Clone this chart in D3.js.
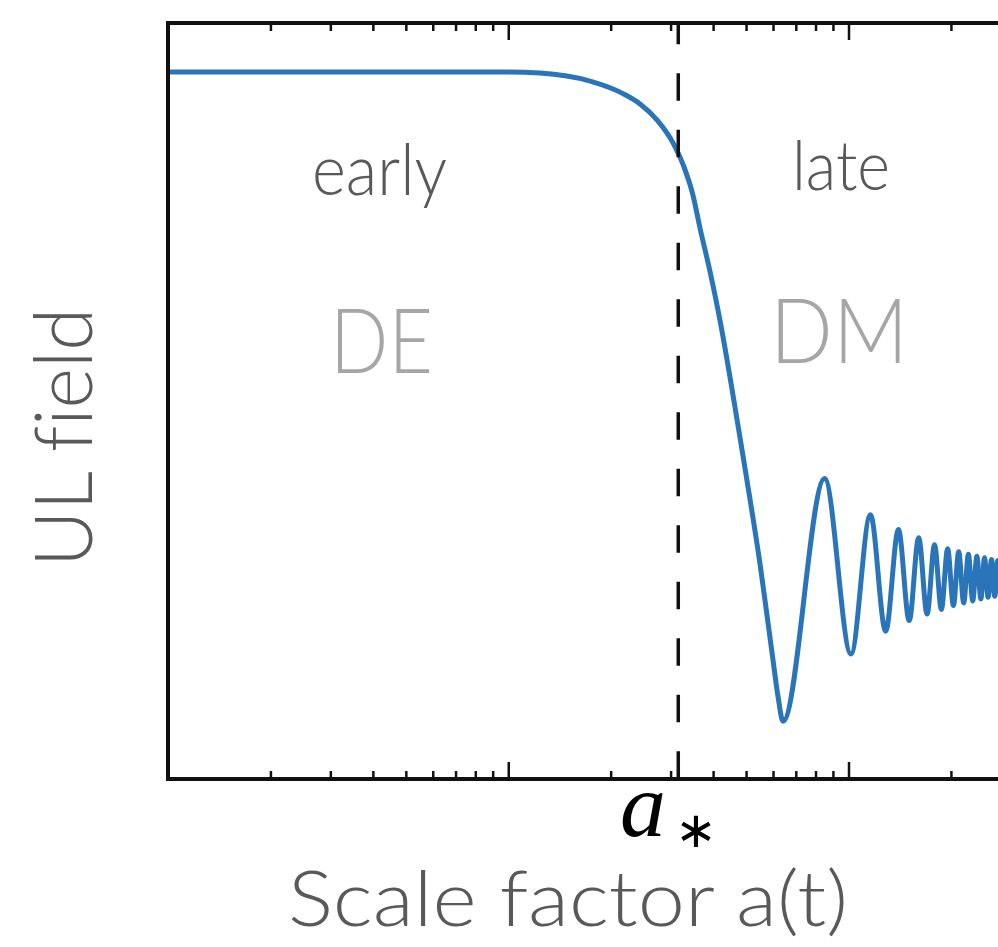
<!DOCTYPE html>
<html>
<head>
<meta charset="utf-8">
<script src="https://cdn.jsdelivr.net/npm/d3@7"></script>
<style>
  html, body { margin: 0; padding: 0; background: #ffffff; overflow: hidden; }
  svg { display: block; }
  text { font-variant-ligatures: none; font-feature-settings: "liga" 0; }
</style>
</head>
<body>
<svg id="chart" width="998" height="947"></svg>
<script>
// ---------------- data ----------------
const majorTicks = [0.01, 0.1, 1, 10];
const minorTicks = [0.02, 0.03, 0.04, 0.05, 0.06, 0.07, 0.08, 0.09,
                    0.2, 0.3, 0.4, 0.5, 0.6, 0.7, 0.8, 0.9,
                    2, 3, 4, 5];
const aStar = 0.316;

// scale factor a (x) and field value (y, frozen value = 1)
const curveA = [0.01, 0.03, 0.06, 0.1, 0.124, 0.174, 0.218, 0.244, 0.274, 0.305,
                0.327, 0.349, 0.366, 0.392, 0.420, 0.449, 0.480, 0.514, 0.550, 0.576,
                0.600, 0.621, 0.642, 0.851, 1.017, 1.160, 1.286,
                1.402, 1.508, 1.608, 1.702, 1.790, 1.875, 1.956, 2.034, 2.108, 2.181,
                2.251, 2.318, 2.384, 2.449, 2.511, 2.572, 2.632, 2.690, 2.747, 2.803,
                2.858, 2.911, 2.964, 3.016];
const curveField = [1.0, 1.0, 1.0, 1.0, 0.998, 0.982, 0.957, 0.937, 0.905, 0.860,
                    0.816, 0.757, 0.692, 0.605, 0.506, 0.395, 0.277, 0.154, 0.026, -0.073,
                    -0.162, -0.235, -0.283, 0.197, -0.150, 0.125, -0.105,
                    0.096, -0.084, 0.080, -0.071, 0.066, -0.062, 0.058, -0.054, 0.052, -0.049,
                    0.047, -0.045, 0.043, -0.041, 0.040, -0.038, 0.037, -0.036, 0.035, -0.034,
                    0.033, -0.032, 0.031, -0.030];

const eraLabels = ["early", "late"];
const fluidLabels = ["DE", "DM"];
const xTitle = "Scale factor a(t)";
const yTitle = "UL field";
const starLabel = "a";
const starSub = "\u2217";

// ---------------- drawing ----------------
const svg = d3.select("#chart");
const L = 168, T = 23, B = 779, R = 1019;

const x = d3.scaleLog().domain([0.01, 1]).range([L, 848.5]);
const y = d3.scaleLinear().domain([-0.397, 1.097]).range([B, T]);

const sans = "Lato, 'Open Sans', 'Noto Sans', sans-serif";

svg.append("defs").append("clipPath").attr("id", "clip")
  .append("rect").attr("x", L).attr("y", T).attr("width", R - L).attr("height", B - T);

function label(txt, xx, yy, size, width, color) {
  return svg.append("text")
    .attr("x", xx).attr("y", yy)
    .attr("font-family", sans).attr("font-weight", 300)
    .attr("font-size", size).attr("fill", color)
    .attr("textLength", width).attr("lengthAdjust", "spacingAndGlyphs")
    .text(txt);
}
label(eraLabels[0], 312, 195, 70, 135, "#595959");
label(eraLabels[1], 792, 190, 68, 98, "#595959");
label(fluidLabels[0], 330, 373, 90, 103, "#a6a6a6");
label(fluidLabels[1], 770, 363, 90, 138, "#a6a6a6");

// y title
svg.append("text")
  .attr("transform", "translate(92,437.5) rotate(-90)")
  .attr("text-anchor", "middle")
  .attr("font-family", sans).attr("font-weight", 300)
  .attr("font-size", 81).attr("fill", "#595959")
  .attr("textLength", 259).attr("lengthAdjust", "spacingAndGlyphs")
  .text(yTitle);

// x title
label(xTitle, 288, 926, 77, 560, "#595959");

// a_* label (single text element)
const st = svg.append("text")
  .attr("x", 620).attr("y", 836)
  .attr("font-family", "'Liberation Serif', 'DejaVu Serif', serif")
  .attr("font-style", "italic").attr("font-size", 92).attr("fill", "#000");
st.append("tspan").text(starLabel);
st.append("tspan")
  .attr("dx", 9).attr("dy", 11)
  .attr("font-family", "'DejaVu Sans', sans-serif")
  .attr("font-style", "normal")
  .attr("font-size", 50)
  .text(starSub);

// curve
const pts = curveA.map((a, i) => [a, curveField[i]]);
const line = d3.line().x(d => x(d[0])).y(d => y(d[1])).curve(d3.curveMonotoneX);
svg.append("path")
  .attr("clip-path", "url(#clip)")
  .attr("d", line(pts))
  .attr("fill", "none").attr("stroke", "#2a75b9")
  .attr("stroke-width", 5).attr("stroke-linejoin", "round");

// dashed a_* line
svg.append("line")
  .attr("x1", x(aStar)).attr("x2", x(aStar))
  .attr("y1", T).attr("y2", B)
  .attr("stroke", "#111").attr("stroke-width", 3.5)
  .attr("stroke-dasharray", "27.5,29").attr("stroke-dashoffset", 6.2);

// axes (ticks inward, no labels)
function addAxis(gen, ty, values, size) {
  const g = svg.append("g").attr("transform", `translate(0,${ty})`)
    .call(gen(x).tickValues(values).tickSize(size).tickFormat(""));
  g.select(".domain").remove();
  g.selectAll(".tick line").attr("stroke", "#111").attr("stroke-width", 2.5);
  return g;
}
addAxis(d3.axisBottom, B, minorTicks, -8);
addAxis(d3.axisBottom, B, majorTicks.filter(v => x(v) > L + 2), -17);
addAxis(d3.axisTop, T, minorTicks, -8);
addAxis(d3.axisTop, T, majorTicks.filter(v => x(v) > L + 2), -17);

// frame
svg.append("rect")
  .attr("x", L).attr("y", T).attr("width", R - L).attr("height", B - T)
  .attr("fill", "none").attr("stroke", "#111").attr("stroke-width", 4);
</script>
</body>
</html>
